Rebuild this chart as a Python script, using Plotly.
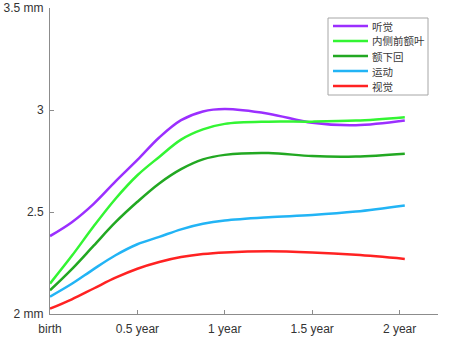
import plotly.graph_objects as go

age = [0, 0.125, 0.25, 0.375, 0.5, 0.625, 0.75, 0.875, 1.0, 1.25, 1.5, 1.75, 2.03]

auditory = [2.382, 2.45, 2.54, 2.65, 2.755, 2.865, 2.95, 2.993, 3.005, 2.982, 2.937, 2.925, 2.948]
mpfc = [2.149, 2.285, 2.43, 2.565, 2.68, 2.77, 2.855, 2.905, 2.932, 2.943, 2.943, 2.948, 2.965]
ifg = [2.116, 2.22, 2.335, 2.45, 2.55, 2.64, 2.71, 2.758, 2.78, 2.789, 2.774, 2.772, 2.786]
motor = [2.085, 2.148, 2.22, 2.288, 2.342, 2.378, 2.415, 2.442, 2.458, 2.474, 2.485, 2.502, 2.532]
visual = [2.026, 2.072, 2.125, 2.178, 2.222, 2.255, 2.279, 2.294, 2.302, 2.308, 2.302, 2.29, 2.27]

names = ["听觉", "内侧前额叶", "额下回", "运动", "视觉"]
colors = ["#9B2FFF", "#33F533", "#22A822", "#22B4F5", "#FF2222"]
series = [auditory, mpfc, ifg, motor, visual]

x_tickvals = [0, 0.5, 1, 1.5, 2]
x_ticktext = ["birth", "0.5 year", "1 year", "1.5 year", "2 year"]
y_tickvals = [2, 2.5, 3, 3.5]
y_ticktext = ["2 mm", "2.5", "3", "3.5 mm"]

W, H = 454, 338
ML, MR, MT, MB = 50, 16, 8, 24
PW, PH = W - ML - MR, H - MT - MB


def px(x):
    return (x - ML) / PW


def py(y):
    return (H - MB - y) / PH


fig = go.Figure()
for n, c, s in zip(names, colors, series):
    fig.add_trace(go.Scatter(x=age, y=s, name=n, mode="lines", showlegend=False,
                             line=dict(color=c, width=2.5, shape="spline", smoothing=1.0)))

# custom legend box (compact, like the original)
shapes = [dict(type="rect", xref="paper", yref="paper",
               x0=px(328), x1=px(428), y0=py(95), y1=py(18),
               line=dict(color="#a6a6a6", width=1), fillcolor="white", layer="above")]
annotations = []
for i, (n, c) in enumerate(zip(names, colors)):
    yc = 26 + 15 * i
    shapes.append(dict(type="line", xref="paper", yref="paper",
                       x0=px(333), x1=px(368), y0=py(yc), y1=py(yc),
                       line=dict(color=c, width=2.5), layer="above"))
    annotations.append(dict(xref="paper", yref="paper", x=px(370), y=py(yc),
                            xanchor="left", yanchor="middle", text=n, showarrow=False,
                            font=dict(family="Noto Sans CJK SC", size=10.5, color="#3a3a3a")))

fig.update_layout(
    width=W, height=H,
    margin=dict(l=ML, r=MR, t=MT, b=MB, autoexpand=False),
    paper_bgcolor="white", plot_bgcolor="white",
    font=dict(family="Liberation Sans, Arial", size=12, color="#333333"),
    showlegend=False,
    shapes=shapes, annotations=annotations,
    xaxis=dict(range=[0, 2.22], tickvals=x_tickvals, ticktext=x_ticktext,
               showgrid=False, zeroline=False, showline=True, linecolor="#8c8c8c",
               linewidth=1, ticks="inside", ticklen=4, tickcolor="#8c8c8c",
               ticklabelstandoff=4, automargin=False),
    yaxis=dict(range=[2, 3.5], tickvals=y_tickvals, ticktext=y_ticktext,
               showgrid=False, zeroline=False, showline=True, linecolor="#8c8c8c",
               linewidth=1, ticks="inside", ticklen=4, tickcolor="#8c8c8c",
               ticklabelstandoff=3, automargin=False),
)

fig.write_html("out.html")
